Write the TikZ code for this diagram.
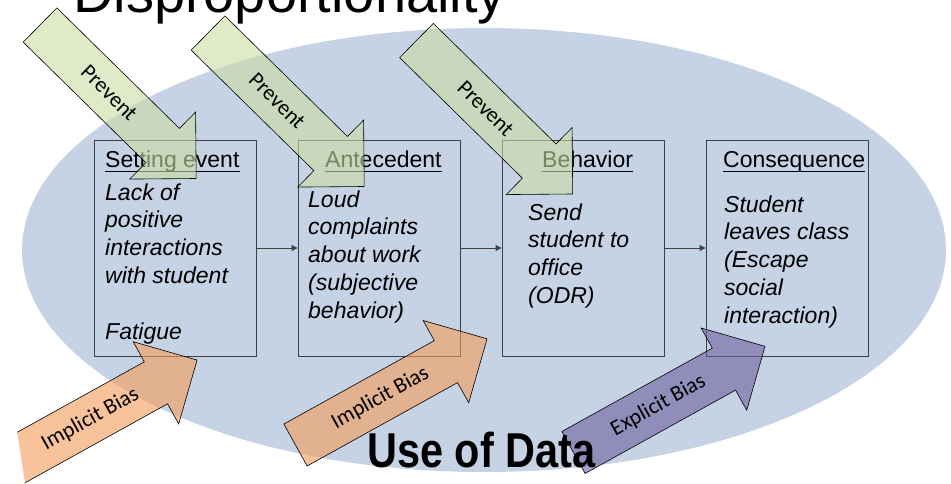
\documentclass[tikz,border=0pt]{standalone}
\usepackage{fontspec}
\usepackage{graphicx}
\setmainfont{Liberation Sans}
\newfontfamily\calib{Carlito}
\usetikzlibrary{arrows.meta}
\definecolor{ellblue}{RGB}{198,211,229}
\definecolor{prevgreen}{RGB}{200,220,163}
\definecolor{implorange}{RGB}{243,155,88}
\definecolor{explpurple}{RGB}{110,95,160}
\definecolor{boxgray}{RGB}{64,64,64}
\tikzset{
  abox/.style={draw=boxgray, line width=0.8pt, minimum width=162pt, minimum height=216pt, inner sep=0pt},
  hdr/.style={anchor=base west, inner sep=0pt, font=\fontsize{23}{27.8}\selectfont},
  bodytxt/.style={anchor=base west, inner sep=0pt, font=\fontsize{23}{27.8}\selectfont\itshape},
  uline/.style={line width=1.5pt, black},
  conn/.style={draw=boxgray, line width=0.8pt, -{Triangle[length=6pt,width=6pt]}},
  barrow/.style={draw=black, line width=0.6pt, fill opacity=0.6},
  arrowlabel/.style={font=\calib\fontsize{22}{25}\selectfont, inner sep=0pt, text=black}
}
\newcommand\blockarrow[5]{%
  \begin{scope}[shift={(#1)}, rotate=#2]
    \filldraw[barrow, fill=#3] (0,-24) -- (172,-24) -- (172,-47) -- (219,0) -- (172,47) -- (172,24) -- (0,24) -- cycle;
    \node[arrowlabel, rotate=#2] (#5) at (97,0) {#4};
  \end{scope}}
\begin{document}
\begin{tikzpicture}[x=1pt,y=-1pt]
\useasboundingbox (0,0) rectangle (951,483);
% background ellipse
\fill[ellblue] (484,250) ellipse [x radius=462pt, y radius=222pt];
% title (cut off)
\node[anchor=base west, inner sep=0pt, font=\fontsize{56}{60}\selectfont] (title) at (73,12) {Disproportionality};
% boxes
\node[abox] (setting) at (175,248) {};
\node[abox] (antecedent) at (379,248) {};
\node[abox] (behavior) at (583,248) {};
\node[abox] (consequence) at (787,248) {};
% connectors
\draw[conn] (setting.east) -- (antecedent.west);
\draw[conn] (antecedent.east) -- (behavior.west);
\draw[conn] (behavior.east) -- (consequence.west);
% headers
\node[hdr] (hset) at (105,167) {Setting event};
\node[hdr] (hant) at (325,167) {Antecedent};
\node[hdr] (hbeh) at (542,167) {Behavior};
\node[hdr] (hcon) at (723,167) {Consequence};
\foreach \h in {hset,hant,hbeh,hcon}
  \draw[uline] ([yshift=-4.5pt]\h.base west) -- ([yshift=-4.5pt]\h.base east);
% body texts
\node[bodytxt] (bset) at (105,200) {\begin{tabular}[t]{@{}l@{}}Lack of\\positive\\interactions\\with student\\ \\Fatigue\end{tabular}};
\node[bodytxt] (bant) at (308,207) {\begin{tabular}[t]{@{}l@{}}Loud\\complaints\\about work\\(subjective\\behavior)\end{tabular}};
\node[bodytxt] (bbeh) at (528,220) {\begin{tabular}[t]{@{}l@{}}Send\\student to\\office\\(ODR)\end{tabular}};
\node[bodytxt] (bcon) at (724,212) {\begin{tabular}[t]{@{}l@{}}Student\\leaves class\\(Escape\\social\\interaction)\end{tabular}};
% prevent arrows
\coordinate (pt1) at (40,25);
\coordinate (pt2) at (208,33);
\coordinate (pt3) at (416.5,40.5);
\blockarrow{pt1}{-44.5}{prevgreen}{Prevent}{prev1}
\blockarrow{pt2}{-44.5}{prevgreen}{Prevent}{prev2}
\blockarrow{pt3}{-44.5}{prevgreen}{Prevent}{prev3}
% bias arrows
\coordinate (bt1) at (5.5,466.2);
\coordinate (bt2) at (295.5,445);
\coordinate (bt3) at (573.5,452.5);
\begin{scope}
  \clip (-3,300) -- (951,300) -- (951,483) -- (25,483) -- cycle;
  \blockarrow{bt1}{29}{implorange}{Implicit Bias}{impl1}
\end{scope}
\blockarrow{bt2}{29}{implorange}{Implicit Bias}{impl2}
\blockarrow{bt3}{29}{explpurple}{Explicit Bias}{expl1}
% use of data
\node[anchor=base west, inner sep=0pt, font=\fontsize{49}{50}\selectfont\bfseries] (uod) at (367,467) {\scalebox{0.846}[1]{Use of Data}};
\end{tikzpicture}
\end{document}
